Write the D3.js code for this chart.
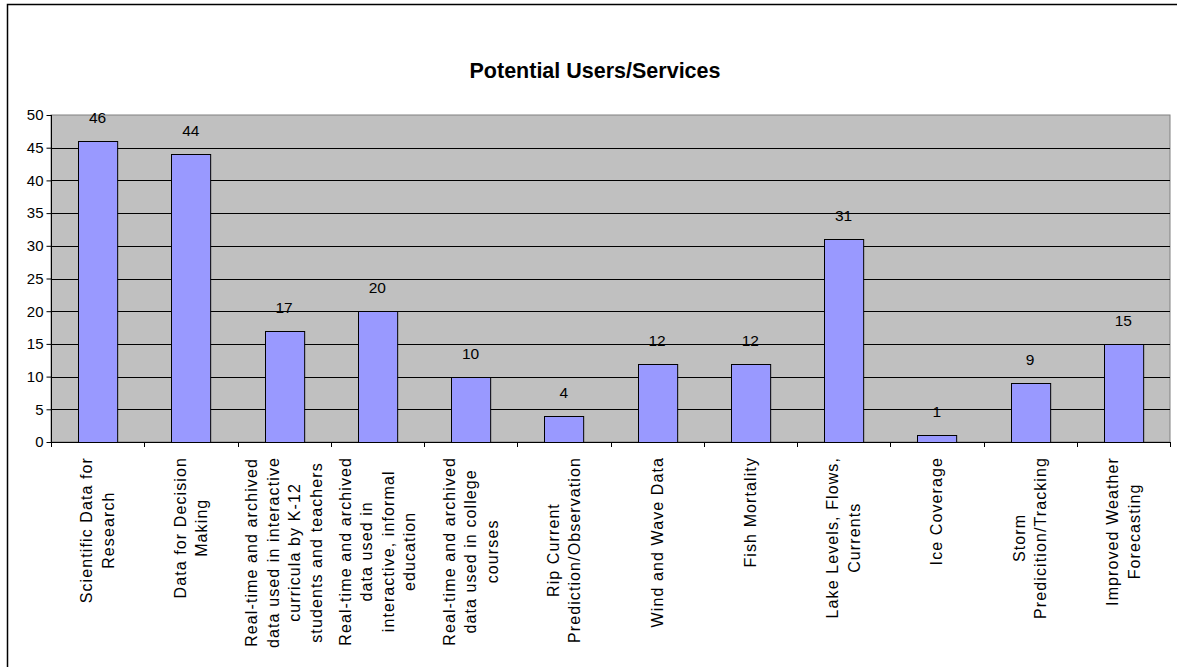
<!DOCTYPE html>
<html>
<head>
<meta charset="utf-8">
<script src="https://cdn.jsdelivr.net/npm/d3@7"></script>
<style>
  html, body { margin: 0; padding: 0; background: #fff; }
  svg { display: block; }
  text { font-family: "Liberation Sans", Arial, sans-serif; fill: #000; }
</style>
</head>
<body>
<svg id="chart" width="1177" height="667"></svg>
<script>
// Survey responses per potential user / service
const categories = [
  "Scientific Data for\nResearch",
  "Data for Decision\nMaking",
  "Real-time and archived\ndata used in interactive\ncurricula by K-12\nstudents and teachers",
  "Real-time and archived\ndata used in\ninteractive, informal\neducation",
  "Real-time and archived\ndata used in college\ncourses",
  "Rip Current\nPrediction/Observation",
  "Wind and Wave Data",
  "Fish Mortality",
  "Lake Levels, Flows,\nCurrents",
  "Ice Coverage",
  "Storm\nPredicition/Tracking",
  "Improved Weather\nForecasting"
];
const responses = [46, 44, 17, 20, 10, 4, 12, 12, 31, 1, 9, 15];
const yTicks = [0, 5, 10, 15, 20, 25, 30, 35, 40, 45, 50];
const chartTitle = "Potential Users/Services";

const svg = d3.select("#chart");

// Outer chart frame (extends past the right and bottom edges)
svg.append("rect")
  .attr("x", 7.5).attr("y", 4.5)
  .attr("width", 1200).attr("height", 700)
  .attr("fill", "none").attr("stroke", "#000").attr("stroke-width", 1.5);

const plot = { left: 51, right: 1170, top: 115, bottom: 442 };

const x = d3.scaleBand()
  .domain(d3.range(categories.length))
  .range([plot.left, plot.right])
  .paddingInner(0.58).paddingOuter(0.29);

const band = d3.scaleBand()
  .domain(d3.range(categories.length))
  .range([plot.left, plot.right]);

const y = d3.scaleLinear().domain([0, 50]).range([plot.bottom, plot.top]);

// Plot background
svg.append("rect")
  .attr("x", plot.left).attr("y", plot.top)
  .attr("width", plot.right - plot.left).attr("height", plot.bottom - plot.top)
  .attr("fill", "#C0C0C0").attr("stroke", "#808080").attr("stroke-width", 1);

// Horizontal gridlines
svg.append("g")
  .selectAll("line")
  .data(yTicks.filter(d => d > 0 && d < 50))
  .join("line")
  .attr("x1", plot.left).attr("x2", plot.right)
  .attr("y1", d => Math.round(y(d)) + 0.5).attr("y2", d => Math.round(y(d)) + 0.5)
  .attr("stroke", "#000").attr("stroke-width", 1);

// Bars
svg.append("g")
  .selectAll("rect")
  .data(responses)
  .join("rect")
  .attr("x", (d, i) => Math.round(x(i)) + 0.5)
  .attr("y", d => Math.round(y(d)) + 0.5)
  .attr("width", x.bandwidth())
  .attr("height", d => y(0) - Math.round(y(d)))
  .attr("fill", "#9999FF")
  .attr("stroke", "#000").attr("stroke-width", 1);

// Value labels
svg.append("g")
  .selectAll("text")
  .data(responses)
  .join("text")
  .attr("x", (d, i) => x(i) + x.bandwidth() / 2)
  .attr("y", d => y(d) - 18)
  .attr("text-anchor", "middle")
  .attr("font-size", 15.5)
  .text(d => d);

// Y axis
const yAxis = svg.append("g")
  .attr("transform", `translate(${plot.left + 0.5},0)`)
  .call(d3.axisLeft(y).tickValues(yTicks).tickSize(5).tickPadding(3).tickFormat(d3.format("d")));
yAxis.select(".domain").attr("stroke", "#000").attr("d", `M0,${plot.top}V${plot.bottom}`);
yAxis.selectAll(".tick line").attr("stroke", "#000");
yAxis.selectAll(".tick text")
  .attr("font-size", 15)
  .attr("font-family", "Liberation Sans, Arial, sans-serif")
  .attr("fill", "#000");

// X axis line with category divider ticks
const xAxisG = svg.append("g");
xAxisG.append("line")
  .attr("x1", plot.left).attr("x2", plot.right)
  .attr("y1", plot.bottom + 0.5).attr("y2", plot.bottom + 0.5)
  .attr("stroke", "#000");
xAxisG.selectAll("line.tick")
  .data(d3.range(categories.length + 1))
  .join("line")
  .attr("class", "tick")
  .attr("x1", i => Math.round(i < categories.length ? band(i) : plot.right) + 0.5)
  .attr("x2", i => Math.round(i < categories.length ? band(i) : plot.right) + 0.5)
  .attr("y1", plot.bottom).attr("y2", plot.bottom + 5)
  .attr("stroke", "#000");

// Category labels, rotated, lines centred within each block
const lineH = 21.5;
const labelTop = 457;
const labelG = svg.append("g");
categories.forEach((label, i) => {
  const lines = label.split("\n");
  const cx = band(i) + band.bandwidth() / 2;
  const g = labelG.append("g");
  const texts = lines.map(ln => g.append("text")
    .attr("font-size", 16)
    .attr("letter-spacing", "1.1px")
    .attr("text-anchor", "middle")
    .text(ln));
  const maxW = d3.max(texts, t => t.node().getComputedTextLength());
  texts.forEach((t, j) => {
    const colX = cx + (j - (lines.length - 1) / 2) * lineH + 5.5;
    const cy = labelTop + maxW / 2;
    t.attr("transform", `translate(${colX},${cy}) rotate(-90)`);
  });
});

// Title
svg.append("text")
  .attr("x", 595).attr("y", 78)
  .attr("text-anchor", "middle")
  .attr("font-size", 21.5)
  .attr("font-weight", "bold")
  .text(chartTitle);
</script>
</body>
</html>
